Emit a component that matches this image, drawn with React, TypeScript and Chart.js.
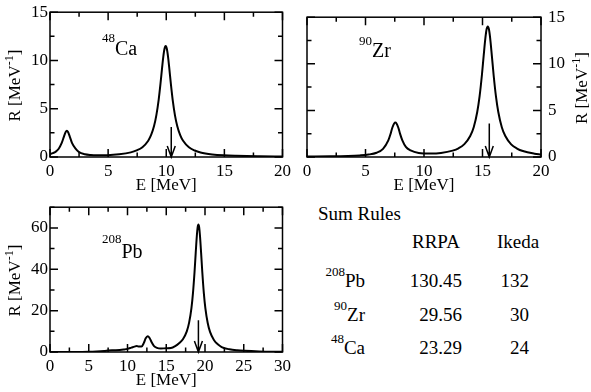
import React, { useEffect, useRef } from 'react';
import { Chart, registerables } from 'chart.js';

Chart.register(...registerables);

const FONT = '"Liberation Serif", "Times New Roman", Times, serif';

// ---------- data ----------
const caEnergy = [0, 0.25, 0.5, 0.75, 1.0, 1.2, 1.35, 1.45, 1.55, 1.7, 1.9, 2.2, 2.5, 3, 3.5, 4, 4.95, 5.95, 6.95, 7.45, 7.95, 8.45, 8.7, 8.95, 9.15, 9.35, 9.5, 9.65, 9.75, 9.85, 9.95, 10.05, 10.15, 10.25, 10.4, 10.55, 10.75, 10.95, 11.2, 11.45, 11.95, 12.45, 12.95, 13.95, 14.95, 16, 18, 20];
const caResponse = [0.30, 0.40, 0.56, 0.86, 1.43, 2.12, 2.60, 2.72, 2.60, 2.12, 1.43, 0.86, 0.50, 0.29, 0.21, 0.18, 0.19, 0.28, 0.48, 0.68, 1.02, 1.69, 2.28, 3.20, 4.33, 5.95, 7.54, 9.33, 10.43, 11.22, 11.5, 11.22, 10.43, 9.33, 7.54, 5.95, 4.32, 3.19, 2.27, 1.68, 1.01, 0.67, 0.47, 0.27, 0.17, 0.12, 0.07, 0.04];

const zrEnergy = [0, 2, 3.5, 4.5, 5.25, 5.95, 6.5, 6.95, 7.15, 7.3, 7.45, 7.55, 7.65, 7.8, 7.95, 8.15, 8.45, 8.85, 9.55, 10.55, 11.45, 12.45, 12.95, 13.45, 13.95, 14.25, 14.55, 14.75, 14.95, 15.1, 15.25, 15.35, 15.45, 15.55, 15.65, 15.8, 15.95, 16.15, 16.35, 16.65, 16.95, 17.45, 17.95, 18.45, 19.45, 20];
const zrResponse = [0.05, 0.07, 0.11, 0.17, 0.26, 0.46, 0.88, 1.78, 2.51, 3.17, 3.60, 3.70, 3.60, 3.17, 2.51, 1.78, 1.08, 0.70, 0.43, 0.37, 0.43, 0.68, 0.93, 1.38, 2.25, 3.20, 4.83, 6.50, 8.80, 10.86, 12.80, 13.70, 14.0, 13.70, 12.80, 10.86, 8.80, 6.50, 4.83, 3.20, 2.25, 1.36, 0.91, 0.64, 0.36, 0.27];

const pbEnergy = [0, 2, 4, 5, 6, 7, 7.5, 8, 8.5, 9, 9.5, 10, 10.5, 10.9, 11.2, 11.5, 11.8, 12.1, 12.35, 12.6, 12.85, 13.1, 13.4, 13.8, 14.3, 15, 15.6, 16.15, 16.65, 17.15, 17.65, 17.95, 18.25, 18.45, 18.65, 18.8, 18.95, 19.05, 19.15, 19.25, 19.35, 19.5, 19.65, 19.85, 20.05, 20.35, 20.65, 21.15, 21.65, 22.15, 23.15, 24.15, 25.15, 27, 30];
const pbResponse = [0, 0.02, 0.05, 0.1, 0.25, 0.5, 0.7, 0.85, 0.9, 1.0, 1.2, 1.5, 2.1, 2.6, 2.9, 2.6, 2.6, 4.3, 6.6, 7.6, 6.8, 4.8, 3.0, 2.0, 1.7, 1.8, 1.9, 2.8, 4.2, 6.2, 10.0, 14.2, 21.2, 28.6, 38.7, 47.8, 56.3, 60.2, 61.6, 60.2, 56.3, 47.8, 38.7, 28.5, 21.1, 14.0, 9.7, 5.8, 3.7, 2.4, 1.3, 0.8, 0.55, 0.3, 0.12];

// arrows (Ca, Zr, Pb): energy and top of arrow
const arrowEnergy = [10.43, 15.58, 19.15];
const arrowTop = [3.1, 3.6, 15.3];

const xTicksSmall = [0, 5, 10, 15, 20];
const yTicksSmall = [0, 5, 10, 15];
const xTicksPb = [0, 5, 10, 15, 20, 25, 30];
const yTicksPb = [0, 20, 40, 60];

const nucleusMass = ['208', '90', '48'];
const nucleusSymbol = ['Pb', 'Zr', 'Ca'];
const rrpaSum = ['130.45', '29.56', '23.29'];
const ikedaSum = ['132', '30', '24'];

// ---------- plugin ----------
type Piece = { t: string; size: number; raise: number };

function drawPieces(ctx: CanvasRenderingContext2D, pieces: Piece[], x: number, y: number, center: boolean) {
  let total = 0;
  const widths = pieces.map((p) => {
    ctx.font = `${p.size}px ${FONT}`;
    const w = ctx.measureText(p.t).width;
    total += w;
    return w;
  });
  let cx = center ? x - total / 2 : x;
  pieces.forEach((p, i) => {
    ctx.font = `${p.size}px ${FONT}`;
    ctx.fillText(p.t, cx, y - p.raise);
    cx += widths[i];
  });
}

const decorPlugin = {
  id: 'decor',
  afterDraw(chart: any, _args: any, opts: any) {
    const { ctx, chartArea } = chart;
    const { left, right, top, bottom } = chartArea;
    const xs = chart.scales.x;
    const ys = chart.scales.y;
    const eps = 1e-6;
    const MAJ = 8;
    const MIN = 4.5;
    ctx.save();
    ctx.strokeStyle = '#000';
    ctx.fillStyle = '#000';
    ctx.lineWidth = 1.5;
    ctx.beginPath();
    for (let v = xs.min; v <= xs.max + eps; v += opts.xMinor) {
      const major = opts.xMajor.some((m: number) => Math.abs(m - v) < eps);
      const L = major ? MAJ : MIN;
      const px = xs.getPixelForValue(v);
      ctx.moveTo(px, bottom);
      ctx.lineTo(px, bottom - L);
      ctx.moveTo(px, top);
      ctx.lineTo(px, top + L);
    }
    for (let v = ys.min; v <= ys.max + eps; v += opts.yMinor) {
      const major = opts.yMajor.some((m: number) => Math.abs(m - v) < eps);
      const L = major ? MAJ : MIN;
      const py = ys.getPixelForValue(v);
      ctx.moveTo(left, py);
      ctx.lineTo(left + L, py);
      ctx.moveTo(right, py);
      ctx.lineTo(right - L, py);
    }
    ctx.stroke();
    ctx.strokeRect(left, top, right - left, bottom - top);

    // arrow
    const ax = xs.getPixelForValue(opts.arrowE);
    const ay0 = ys.getPixelForValue(opts.arrowTop);
    const ay1 = ys.getPixelForValue(0);
    ctx.beginPath();
    ctx.moveTo(ax, ay0);
    ctx.lineTo(ax, ay1);
    ctx.moveTo(ax - 4, ay1 - 11);
    ctx.lineTo(ax, ay1);
    ctx.lineTo(ax + 4, ay1 - 11);
    ctx.stroke();

    // x title
    ctx.textAlign = 'left';
    ctx.textBaseline = 'alphabetic';
    drawPieces(ctx, [{ t: 'E [MeV]', size: 17, raise: 0 }], (left + right) / 2, opts.xTitleBaseline, true);

    // y title (rotated)
    ctx.save();
    ctx.translate(opts.yTitleX, (top + bottom) / 2 + 1);
    ctx.rotate(-Math.PI / 2);
    drawPieces(
      ctx,
      [
        { t: 'R [MeV', size: 17, raise: 0 },
        { t: '-1', size: 12, raise: 7 },
        { t: ']', size: 17, raise: 0 },
      ],
      0,
      0,
      true
    );
    ctx.restore();

    // nucleus label
    ctx.font = `13px ${FONT}`;
    const mw = ctx.measureText(opts.mass).width;
    ctx.fillText(opts.mass, opts.labelX, opts.supBaseline);
    ctx.font = `20px ${FONT}`;
    ctx.fillText(opts.symbol, opts.labelX + mw, opts.labelBaseline);
    ctx.restore();
  },
};

// ---------- panel ----------
type PanelProps = {
  energies: number[];
  response: number[];
  xMax: number;
  yMax: number;
  xMajor: number[];
  yMajor: number[];
  xMinor: number;
  yMinor: number;
  yPosition: 'left' | 'right';
  mass: string;
  symbol: string;
  arrowE: number;
  arrowTop: number;
  box: { left: number; top: number; width: number; height: number };
  padLeft: number;
  padRight: number;
  yTitleX: number;
  labelX: number;
  supBaseline: number;
  labelBaseline: number;
};

function Panel(p: PanelProps) {
  const ref = useRef<HTMLCanvasElement | null>(null);
  useEffect(() => {
    if (!ref.current) return;
    const points = p.energies.map((e, i) => ({ x: e, y: p.response[i] }));
    const chart = new Chart(ref.current, {
      type: 'line',
      data: {
        datasets: [
          {
            data: points,
            borderColor: '#000',
            borderWidth: 2,
            pointRadius: 0,
            fill: false,
            cubicInterpolationMode: 'monotone',
          },
        ],
      },
      options: {
        animation: false,
        responsive: false,
        maintainAspectRatio: false,
        devicePixelRatio: 1,
        layout: {
          padding: { left: p.padLeft, right: p.padRight, top: 7, bottom: 0 },
          autoPadding: false,
        } as any,
        plugins: {
          legend: { display: false },
          tooltip: { enabled: false },
          decor: {
            xMajor: p.xMajor,
            yMajor: p.yMajor,
            xMinor: p.xMinor,
            yMinor: p.yMinor,
            arrowE: p.arrowE,
            arrowTop: p.arrowTop,
            xTitleBaseline: 190,
            yTitleX: p.yTitleX,
            mass: p.mass,
            symbol: p.symbol,
            labelX: p.labelX,
            supBaseline: p.supBaseline,
            labelBaseline: p.labelBaseline,
          },
        } as any,
        scales: {
          x: {
            type: 'linear',
            position: 'bottom',
            min: 0,
            max: p.xMax,
            grid: { display: false, drawTicks: false },
            border: { display: false },
            ticks: {
              font: { family: FONT, size: 17 },
              color: '#000',
              padding: 4,
              maxRotation: 0,
              autoSkip: false,
            },
            afterBuildTicks: (s: any) => {
              s.ticks = p.xMajor.map((v) => ({ value: v }));
            },
            afterFit: (s: any) => {
              s.height = 40;
            },
          },
          y: {
            type: 'linear',
            position: p.yPosition,
            min: 0,
            max: p.yMax,
            grid: { display: false, drawTicks: false },
            border: { display: false },
            ticks: {
              font: { family: FONT, size: 17 },
              color: '#000',
              padding: p.yPosition === 'left' ? 2 : 7,
              autoSkip: false,
            },
            afterBuildTicks: (s: any) => {
              s.ticks = p.yMajor.map((v) => ({ value: v }));
            },
            afterFit: (s: any) => {
              s.width = 50;
            },
          },
        },
      } as any,
      plugins: [decorPlugin as any],
    });
    return () => chart.destroy();
  }, []);
  return (
    <canvas
      ref={ref}
      width={p.box.width}
      height={p.box.height}
      style={{
        position: 'absolute',
        left: p.box.left,
        top: p.box.top,
        width: p.box.width,
        height: p.box.height,
      }}
    />
  );
}

function TextAt(props: { x: number; baseline: number; size: number; children: React.ReactNode; align?: 'left' | 'right' }) {
  const style: React.CSSProperties = {
    position: 'absolute',
    top: props.baseline - Math.round(props.size * 0.84),
    fontFamily: FONT,
    fontSize: props.size,
    lineHeight: `${props.size}px`,
    whiteSpace: 'nowrap',
    color: '#000',
  };
  if (props.align === 'right') {
    style.right = 591 - props.x;
    style.textAlign = 'right';
  } else {
    style.left = props.x;
  }
  return <div style={style}>{props.children}</div>;
}

export default function App() {
  const rowBaselines = [287, 321, 354];
  return (
    <div
      style={{
        position: 'fixed',
        left: 0,
        top: 0,
        width: 591,
        height: 392,
        background: '#fff',
        overflow: 'hidden',
      }}
    >
      <Panel
        energies={caEnergy}
        response={caResponse}
        xMax={20}
        yMax={15}
        xMajor={xTicksSmall}
        yMajor={yTicksSmall}
        xMinor={2.5}
        yMinor={2.5}
        yPosition="left"
        mass="48"
        symbol="Ca"
        arrowE={arrowEnergy[0]}
        arrowTop={arrowTop[0]}
        box={{ left: 0, top: 0, width: 295, height: 197 }}
        padLeft={0}
        padRight={11}
        yTitleX={20}
        labelX={102}
        supBaseline={42}
        labelBaseline={55}
      />
      <Panel
        energies={zrEnergy}
        response={zrResponse}
        xMax={20}
        yMax={15}
        xMajor={xTicksSmall}
        yMajor={yTicksSmall}
        xMinor={2.5}
        yMinor={2.5}
        yPosition="right"
        mass="90"
        symbol="Zr"
        arrowE={arrowEnergy[1]}
        arrowTop={arrowTop[1]}
        box={{ left: 295, top: 0, width: 296, height: 197 }}
        padLeft={12}
        padRight={0}
        yTitleX={292}
        labelX={64}
        supBaseline={45}
        labelBaseline={57}
      />
      <Panel
        energies={pbEnergy}
        response={pbResponse}
        xMax={30}
        yMax={70}
        xMajor={xTicksPb}
        yMajor={yTicksPb}
        xMinor={2.5}
        yMinor={10}
        yPosition="left"
        mass="208"
        symbol="Pb"
        arrowE={arrowEnergy[2]}
        arrowTop={arrowTop[2]}
        box={{ left: 0, top: 195, width: 295, height: 197 }}
        padLeft={0}
        padRight={11}
        yTitleX={20}
        labelX={102}
        supBaseline={48}
        labelBaseline={63}
      />
      <TextAt x={318} baseline={220} size={19}>Sum Rules</TextAt>
      <TextAt x={412} baseline={248} size={19}>RRPA</TextAt>
      <TextAt x={497} baseline={248} size={19}>Ikeda</TextAt>
      {nucleusSymbol.map((sym, i) => (
        <React.Fragment key={sym}>
          <TextAt x={365} baseline={rowBaselines[i]} size={19} align="right">
            <span style={{ fontSize: 13, position: 'relative', top: -11 }}>{nucleusMass[i]}</span>
            {sym}
          </TextAt>
          <TextAt x={462} baseline={rowBaselines[i]} size={19} align="right">
            {rrpaSum[i]}
          </TextAt>
          <TextAt x={529} baseline={rowBaselines[i]} size={19} align="right">
            {ikedaSum[i]}
          </TextAt>
        </React.Fragment>
      ))}
    </div>
  );
}
